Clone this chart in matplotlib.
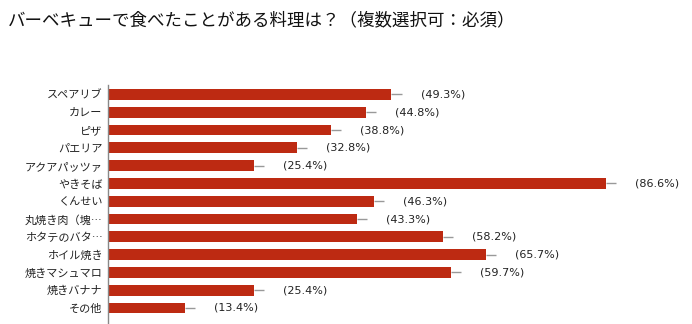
import matplotlib
matplotlib.use('Agg')
import matplotlib.pyplot as plt

plt.rcParams['font.family'] = ['Noto Sans CJK JP', 'DejaVu Sans']

# data
items = ['スペアリブ', 'カレー', 'ピザ', 'パエリア', 'アクアパッツァ', 'やきそば', 'くんせい',
         '丸焼き肉（塊…', 'ホタテのバタ…', 'ホイル焼き', '焼きマシュマロ', '焼きバナナ', 'その他']
percent = [49.3, 44.8, 38.8, 32.8, 25.4, 86.6, 46.3, 43.3, 58.2, 65.7, 59.7, 25.4, 13.4]

W, H = 692, 324
fig = plt.figure(figsize=(W / 100, H / 100), dpi=100)
ax = fig.add_axes([108 / W, 0, (683 - 108) / W, 1 - 85 / H])

pos = list(range(len(items)))
ax.barh(pos, percent, height=0.6, color='#bd2a12', zorder=2)
# short gray whisker at each bar end
ax.hlines(pos, percent, [p + 1.75 for p in percent], color='#999999', linewidth=1, zorder=1)
for y, p in zip(pos, percent):
    ax.annotate(f'({p}%)', (p, y), xytext=(21, 0), textcoords='offset points',
                fontsize=8, color='#222222', va='center', ha='left',
                family=['DejaVu Sans'])

ax.set_xlim(0, 100)
ax.set_ylim(len(items) - 1 + 0.9, -0.53)
ax.set_yticks(pos)
ax.set_yticklabels(items, fontsize=8, color='#222222')
ax.set_xticks([])
ax.tick_params(axis='y', length=0, pad=4)
for s in ['top', 'right', 'bottom']:
    ax.spines[s].set_visible(False)
ax.spines['left'].set_color('#888888')
ax.spines['left'].set_linewidth(1)

fig.text(8 / W, 1 - 20 / H, 'バーベキューで食べたことがある料理は？（複数選択可：必須）',
         fontsize=12.6, color='#111111', va='center', ha='left')

fig.savefig('out.png', dpi=100)
